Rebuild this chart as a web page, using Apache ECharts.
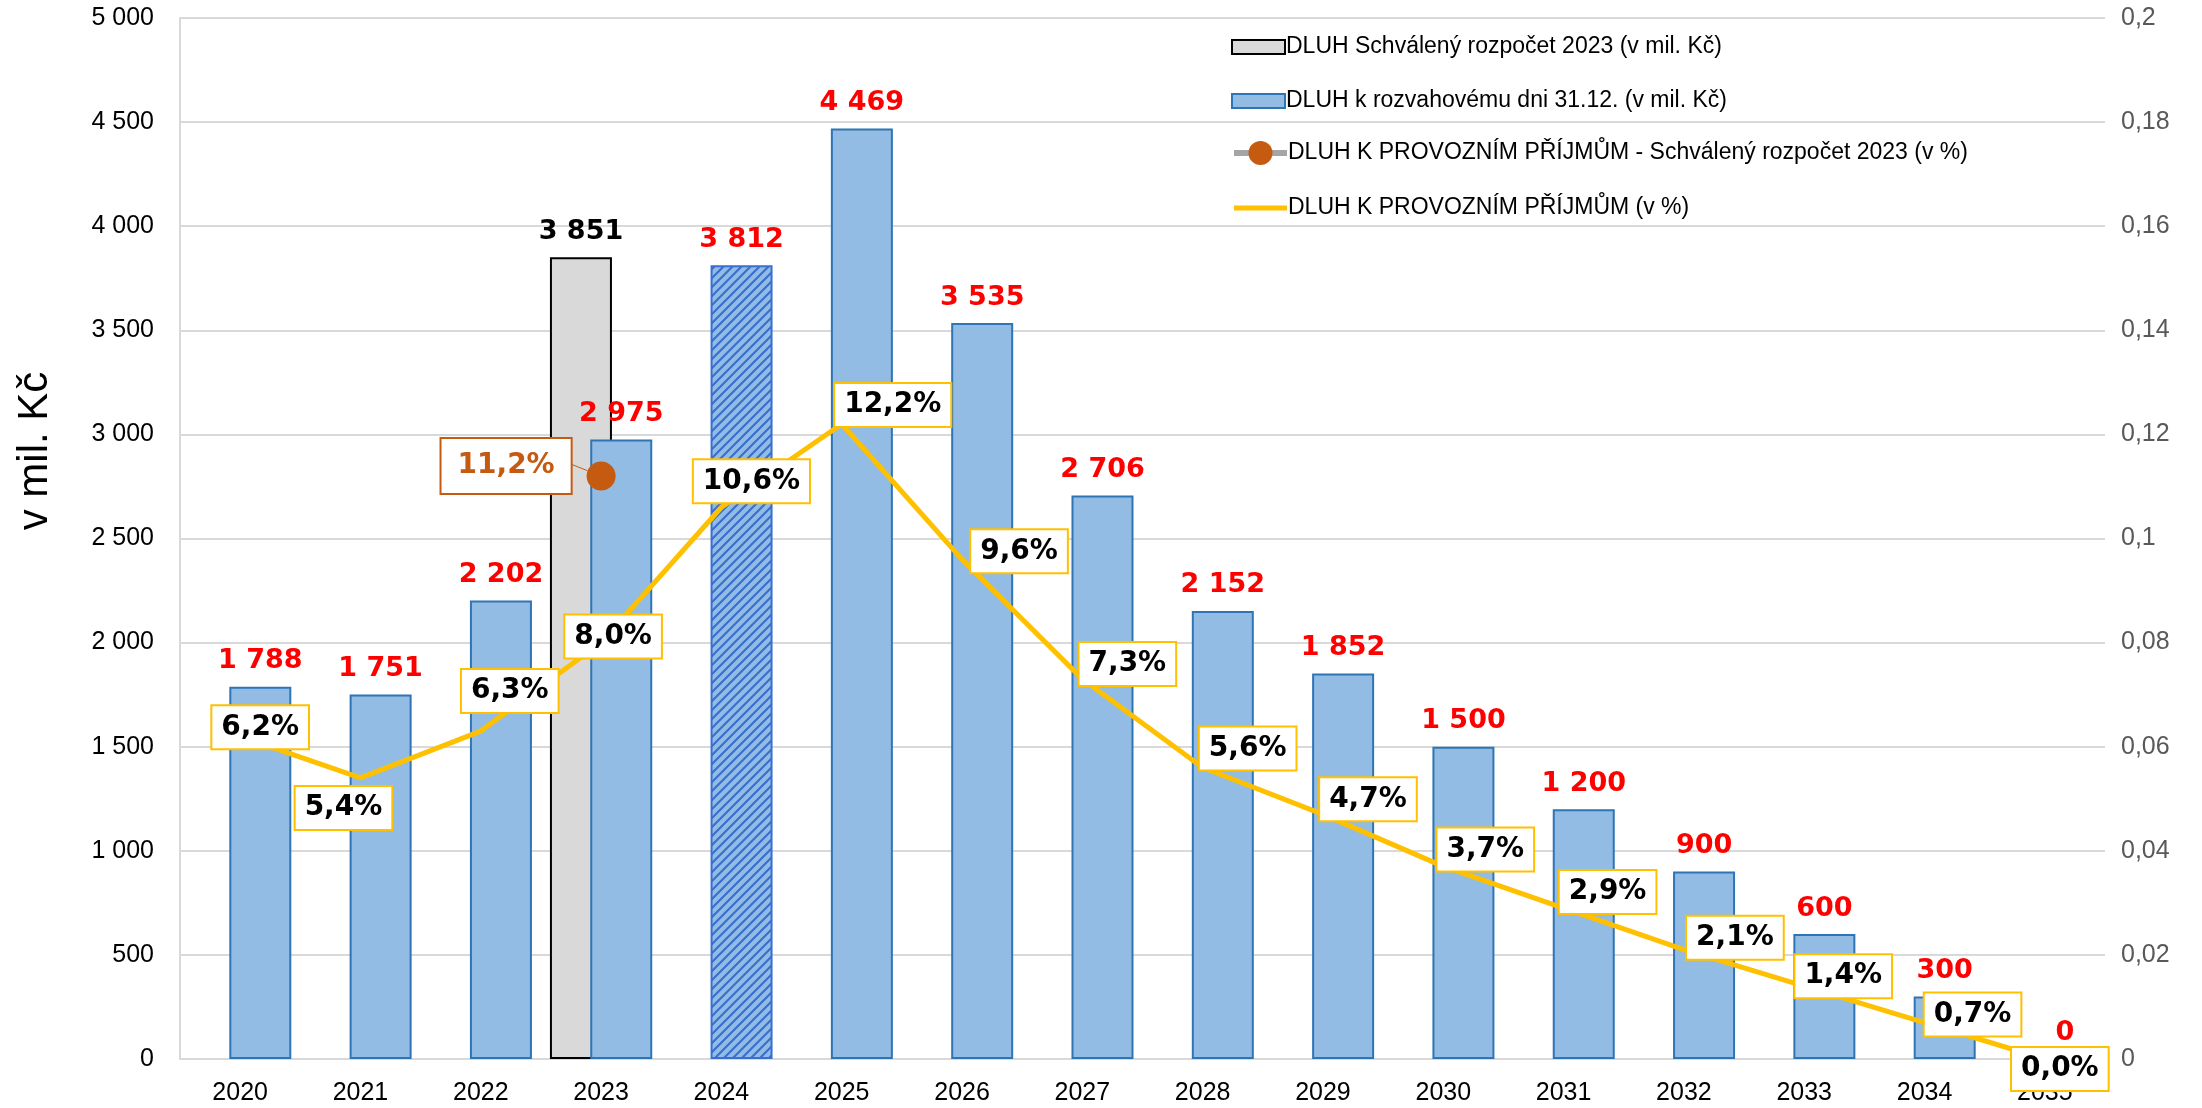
<!DOCTYPE html>
<html lang="cs">
<head>
<meta charset="utf-8">
<title>Dluh</title>
<style>
  html, body { margin: 0; padding: 0; background: #fff; }
  #chart { width: 2202px; height: 1108px; }
</style>
</head>
<body>
<div id="chart"></div>
<script src="https://cdn.jsdelivr.net/npm/echarts@6/dist/echarts.min.js"></script>
<script>
// roky
var years = ['2020', '2021', '2022', '2023', '2024', '2025', '2026', '2027',
             '2028', '2029', '2030', '2031', '2032', '2033', '2034', '2035'];
// dluh - schvaleny rozpocet 2023 (mil. Kc)
var dluhSchvaleny = [null, null, null, 3851, null, null, null, null,
                     null, null, null, null, null, null, null, null];
// dluh k rozvahovemu dni 31.12. (mil. Kc)
var dluhRozvaha = [1788, 1751, 2202, 2975, 3812, 4469, 3535, 2706,
                   2152, 1852, 1500, 1200, 900, 600, 300, 0];
// dluh k provoznim prijmum - schvaleny rozpocet 2023
var podilSchvaleny = [null, null, null, 0.112, null, null, null, null,
                      null, null, null, null, null, null, null, null];
// dluh k provoznim prijmum
var podilPrijmy = [0.062, 0.054, 0.063, 0.080, 0.106, 0.122, 0.096, 0.073,
                   0.056, 0.047, 0.037, 0.029, 0.021, 0.014, 0.007, 0.000];
var hatchedYear = '2024';

// posuny popisku procent (rucne umistene jako v Excelu)
var pctLabelOffsets = [[20, -9], [-17, 30], [29, -40], [12, -6], [30, -26], [51, -19],
                       [57, -8], [45, -15], [45, -19], [45, -15], [42, -17], [44, -16],
                       [51, -12], [39, -10], [48, -8], [15, 10]];

var nameSchvaleny = 'DLUH Schválený rozpočet 2023 (v mil. Kč)';
var nameRozvaha = 'DLUH k rozvahovému dni 31.12. (v mil. Kč)';
var namePodilSchv = 'DLUH K PROVOZNÍM PŘÍJMŮM - Schválený rozpočet 2023 (v %)';
var namePodil = 'DLUH K PROVOZNÍM PŘÍJMŮM (v %)';

function fmtNum(v) {
  v = Math.round(v);
  if (v >= 1000) return Math.floor(v / 1000) + ' ' + String(v % 1000).padStart(3, '0');
  return String(v);
}
function fmtPct(v) {
  return (v * 100).toFixed(1).replace('.', ',') + '%';
}

// srafovani pro rok 2024
var hatch = document.createElement('canvas');
hatch.width = 9; hatch.height = 9;
var hc = hatch.getContext('2d');
hc.fillStyle = '#92BCE3';
hc.fillRect(0, 0, 9, 9);
hc.strokeStyle = '#3A6FD1';
hc.lineWidth = 2.2;
hc.beginPath();
hc.moveTo(-2, 11); hc.lineTo(11, -2);
hc.moveTo(-6, 6); hc.lineTo(6, -6);
hc.moveTo(3, 15); hc.lineTo(15, 3);
hc.stroke();

var chart = echarts.init(document.getElementById('chart'));

var rozvahaData = dluhRozvaha.map(function (v, i) {
  if (years[i] === hatchedYear) {
    return { value: v, itemStyle: { color: { image: hatch, repeat: 'repeat' }, borderColor: '#3A6FD1' } };
  }
  return v;
});

var pctData = podilPrijmy.map(function (v, i) {
  return { value: v, label: { offset: pctLabelOffsets[i] } };
});

var legendText = { fontFamily: 'Liberation Sans', fontSize: 23, lineHeight: 24, color: '#000', padding: [0, 0, 0, -4] };

var option = {
  backgroundColor: '#fff',
  animation: false,
  grid: { left: 180, right: 97, top: 18, bottom: 49, containLabel: false },
  legend: [{
    orient: 'vertical',
    left: 1226,
    top: 30,
    icon: 'rect',
    itemWidth: 53,
    itemHeight: 14,
    itemGap: 30,
    textStyle: legendText,
    data: [nameSchvaleny, nameRozvaha]
  }, {
    orient: 'vertical',
    left: 1226,
    top: 136,
    itemWidth: 53,
    itemHeight: 30,
    itemGap: 31,
    textStyle: legendText,
    data: [
      { name: namePodilSchv, lineStyle: { color: '#A5A5A5', width: 6 } },
      { name: namePodil, itemStyle: { opacity: 0 }, lineStyle: { color: '#FFC000', width: 5 } }
    ]
  }],
  graphic: [{
    type: 'text',
    x: 35,
    y: 451,
    rotation: Math.PI / 2,
    style: {
      text: 'v mil. Kč',
      fontFamily: 'Liberation Sans',
      fontSize: 42,
      fill: '#000',
      align: 'center',
      verticalAlign: 'middle'
    }
  }],
  xAxis: {
    type: 'category',
    data: years,
    axisLine: { show: true, lineStyle: { color: '#D9D9D9', width: 2 } },
    axisTick: { show: false },
    axisLabel: { fontFamily: 'Liberation Sans', fontSize: 25, color: '#000', margin: 22 }
  },
  yAxis: [{
    type: 'value',
    min: 0,
    max: 5000,
    interval: 500,
    axisLine: { show: true, lineStyle: { color: '#D9D9D9', width: 2 } },
    axisTick: { show: false },
    splitLine: { lineStyle: { color: '#D9D9D9', width: 2 } },
    axisLabel: { formatter: fmtNum, fontFamily: 'Liberation Sans', fontSize: 25, color: '#000', margin: 26 }
  }, {
    type: 'value',
    min: 0,
    max: 0.2,
    interval: 0.02,
    axisLine: { show: false },
    axisTick: { show: false },
    splitLine: { show: false },
    axisLabel: {
      formatter: function (v) { return String(+v.toFixed(2)).replace('.', ','); },
      fontFamily: 'Liberation Sans', fontSize: 25, color: '#595959', margin: 16
    }
  }],
  series: [{
    name: nameSchvaleny,
    type: 'bar',
    data: dluhSchvaleny,
    barWidth: 62,
    barGap: '-35%',
    itemStyle: { color: '#D9D9D9', borderColor: '#000', borderWidth: 2 },
    label: {
      show: true, position: 'top', distance: 12,
      formatter: function (p) { return fmtNum(p.value); },
      fontFamily: 'DejaVu Sans', fontWeight: 'bold', fontSize: 27, color: '#000'
    },
    z: 2
  }, {
    name: nameRozvaha,
    type: 'bar',
    data: rozvahaData,
    barWidth: 62,
    itemStyle: { color: '#92BCE3', borderColor: '#2E75B6', borderWidth: 2 },
    label: {
      show: true, position: 'top', distance: 12,
      formatter: function (p) { return fmtNum(p.value); },
      fontFamily: 'DejaVu Sans', fontWeight: 'bold', fontSize: 27, color: '#FF0000'
    },
    z: 3
  }, {
    name: namePodil,
    type: 'line',
    yAxisIndex: 1,
    data: pctData,
    symbol: 'circle',
    symbolSize: 1,
    showSymbol: true,
    itemStyle: { color: '#FFC000' },
    lineStyle: { color: '#FFC000', width: 5 },
    label: {
      show: true,
      position: 'inside',
      formatter: function (p) { return fmtPct(p.value); },
      fontFamily: 'DejaVu Sans',
      fontWeight: 'bold',
      fontSize: 28,
      lineHeight: 32,
      color: '#000',
      backgroundColor: '#fff',
      borderColor: '#FFC000',
      borderWidth: 2,
      padding: [5, 9, 5, 9]
    },
    z: 5
  }, {
    name: namePodilSchv,
    type: 'line',
    yAxisIndex: 1,
    data: podilSchvaleny,
    symbol: 'circle',
    symbolSize: 29,
    itemStyle: { color: '#C55A11' },
    lineStyle: { color: '#A5A5A5', width: 6 },
    label: {
      show: true,
      position: 'inside',
      offset: [-95, -10],
      formatter: function (p) { return fmtPct(p.value); },
      fontFamily: 'DejaVu Sans',
      fontWeight: 'bold',
      fontSize: 28,
      lineHeight: 32,
      color: '#C55A11',
      backgroundColor: '#fff',
      borderColor: '#C55A11',
      borderWidth: 2,
      padding: [11, 16, 11, 16]
    },
    labelLine: { show: true, lineStyle: { color: '#C55A11', width: 1 } },
    z: 6
  }]
};

chart.setOption(option);
</script>
</body>
</html>
